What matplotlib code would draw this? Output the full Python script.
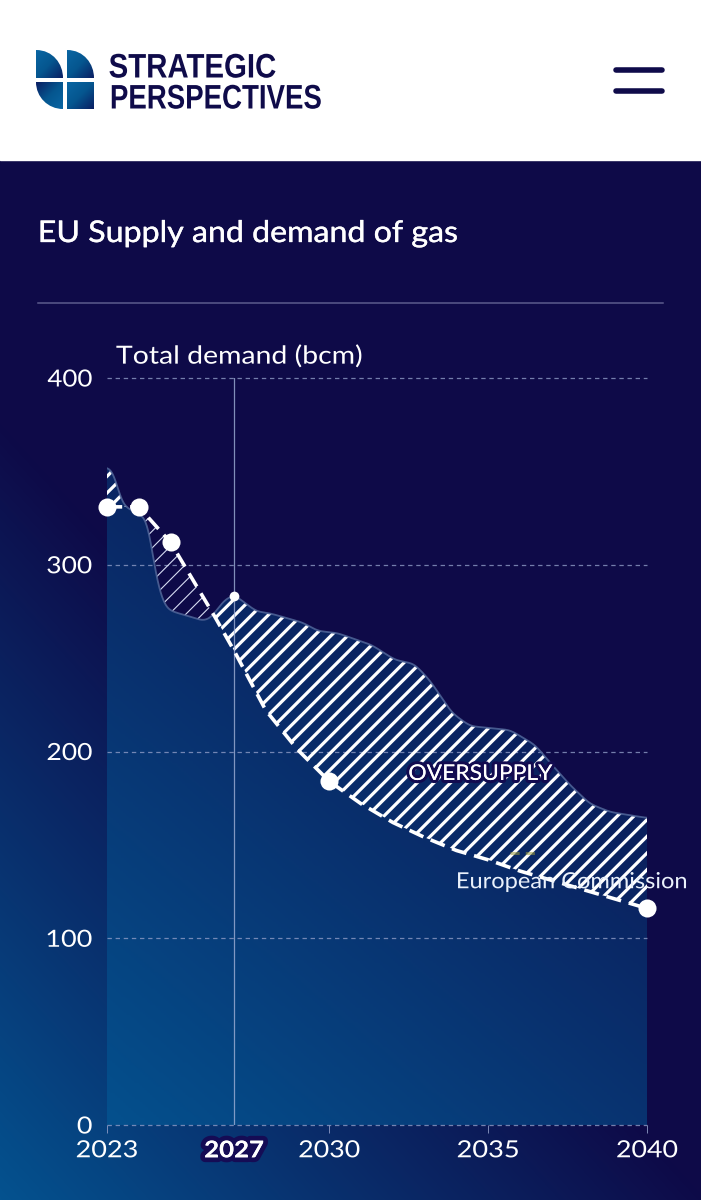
import numpy as np
import matplotlib
matplotlib.use("Agg")
import matplotlib.pyplot as plt
from matplotlib.colors import LinearSegmentedColormap
from matplotlib.path import Path
from matplotlib.patches import PathPatch, Rectangle
from matplotlib.transforms import Affine2D
import matplotlib.patheffects as pe

# ---- data -------------------------------------------------------------
demand_years = [2023, 2024, 2025, 2026.4, 2027, 2028, 2029, 2030, 2031, 2032, 2033,
                2034, 2035, 2036, 2037, 2038, 2039, 2040]
demand_values = [331, 331, 312, 272, 254, 222, 201, 184, 172, 162, 154,
                 147, 142, 136, 131, 126, 121, 116]
supply_years = [2023, 2023.16, 2023.3, 2023.47, 2023.9, 2024.26, 2024.35, 2024.45, 2024.54,
                2024.67, 2024.83, 2025.05, 2025.46, 2026.02, 2026.24, 2026.43, 2026.68,
                2027, 2027.35, 2027.7, 2028.13, 2029.17, 2029.64, 2030.24, 2031.34,
                2032.07, 2032.67, 2033.17, 2033.86, 2034.43, 2035.69, 2036.48, 2036.95,
                2037.58, 2038.2, 2038.84, 2040]
supply_values = [352, 352, 344, 332, 328, 325, 317, 304, 293,
                 285, 277, 275, 273, 270, 271, 275, 281,
                 284, 279.5, 275, 274, 269, 264.5, 263.5, 257,
                 249, 247, 238, 220.6, 213.6, 211.5, 203.5, 194,
                 182, 172, 167.6, 164.4]
marker_years = [2023, 2024, 2025, 2030, 2040]
marker_values = [331, 331, 312, 184, 116]
supply_marker_year = [2027]
supply_marker_value = [283]
tint_years = [2035.7, 2036.6]
tint_values = [145.5, 145.5]
x_ticks = [2023, 2027, 2030, 2035, 2040]
x_labels = ["2023", "2027", "2030", "2035", "2040"]
y_ticks = [0, 100, 200, 300, 400]

W, H = 701, 1200
NAVY = "#0e0a48"
INK = "#0f0b4a"
plt.rcParams["font.family"] = ["Lato", "DejaVu Sans"]


class Fit(pe.AbstractPathEffect):
    """Draw text scaled horizontally to a given pixel width, with an optional stroke."""
    def __init__(self, width, anchor="left", stroke=0.0, stroke_color=None):
        super().__init__()
        self.width, self.anchor, self.stroke, self.stroke_color = width, anchor, stroke, stroke_color

    def draw_path(self, renderer, gc, tpath, affine, rgbFace=None):
        ext = tpath.get_extents(affine)
        a = {"left": ext.x0, "center": (ext.x0 + ext.x1) / 2, "right": ext.x1}[self.anchor]
        sx = self.width / max(ext.width, 1e-6)
        aff = affine + Affine2D().translate(-a, 0).scale(sx, 1).translate(a, 0)
        if self.stroke:
            gc0 = renderer.new_gc()
            gc0.copy_properties(gc)
            gc0.set_linewidth(self.stroke)
            gc0.set_foreground(self.stroke_color if self.stroke_color else rgbFace)
            gc0.set_joinstyle("round")
            renderer.draw_path(gc0, tpath, aff, rgbFace)
            gc0.restore()
        renderer.draw_path(gc, tpath, aff, rgbFace)


fig = plt.figure(figsize=(W / 100, H / 100), dpi=100, facecolor="white")

# ---- page background --------------------------------------------------
bg = fig.add_axes([0, 0, 1, 1], zorder=0)
bg.axis("off")
px, py = np.meshgrid(np.arange(W), np.arange(160, H))
t = np.clip(((py - 420) - 1.1 * px) / 780, 0, 1)
page_cmap = LinearSegmentedColormap.from_list("page", [NAVY, "#04528f"])
bg.imshow(t, cmap=page_cmap, vmin=0, vmax=1, extent=(0, W, H, 160), aspect="auto", zorder=0)

# header
bg.add_patch(Rectangle((0, 0), W, 160, color="white", zorder=1))
logo_cmap = LinearSegmentedColormap.from_list("logo", ["#0a1f63", "#05568f", "#0a66a3"])
def logo_piece(verts, codes, rev=False):
    patch = PathPatch(Path(verts, codes), fc="none", ec="none", zorder=2)
    bg.add_patch(patch)
    x0, x1 = min(v[0] for v in verts), max(v[0] for v in verts)
    y0, y1 = min(v[1] for v in verts), max(v[1] for v in verts)
    g = np.add.outer(np.linspace(0, 1, 40), np.linspace(0, 1, 40)) / 2
    if rev:
        g = 1 - g
    im = bg.imshow(g, cmap=logo_cmap, extent=(x0, x1, y1, y0), aspect="auto", zorder=2)
    im.set_clip_path(patch)
M, L, C = Path.MOVETO, Path.LINETO, Path.CURVE4
for x0 in (36, 67):
    logo_piece([(x0, 50), (x0 + 17, 50), (x0 + 27, 64), (x0 + 27, 78), (x0, 78), (x0, 50)],
               [M, C, C, C, L, L], rev=True)
logo_piece([(36, 82), (63, 82), (63, 109), (48, 109), (36, 97), (36, 82)],
           [M, L, L, C, C, C], rev=False)
logo_piece([(67, 82), (94, 82), (94, 109), (67, 109), (67, 82)], [M, L, L, L, L], rev=True)
bg.set_xlim(0, W); bg.set_ylim(H, 0)
bg.text(108.5, 77.5, "STRATEGIC", family=["Liberation Sans", "DejaVu Sans"], weight="bold",
        fontsize=24.5, color=INK, va="baseline", ha="left", zorder=3,
        path_effects=[Fit(166)])
bg.text(109.5, 108.5, "PERSPECTIVES", family=["Liberation Sans", "DejaVu Sans"], weight="bold",
        fontsize=24.5, color=INK, va="baseline", ha="left", zorder=3,
        path_effects=[Fit(209)])
for yy in (70, 91):
    bg.plot([616, 662], [yy, yy], color=INK, lw=4.0, solid_capstyle="round", zorder=3)

# title and rule
bg.text(38, 233, "EU Supply and demand of gas", color="white", fontsize=21.5,
        va="center", ha="left", zorder=3, path_effects=[Fit(416, stroke=0.25)])
bg.plot([38, 663], [303, 303], color="#5c5b8c", lw=1.1, zorder=3)
bg.text(116, 356, "Total demand (bcm)", color="white", fontsize=18, va="center", ha="left",
        zorder=3, path_effects=[Fit(245)])

# ---- chart -------------------------------------------------------------
ax = fig.add_axes([107 / W, 1 - 1125 / H, 540 / W, 747 / H], zorder=2)
ax.patch.set_alpha(0)
for s in ax.spines.values():
    s.set_visible(False)

# dense sampling with a small kernel only rounds the drawn outline of the read points
xs = np.linspace(2023, 2040, 1361)
dem = np.interp(xs, demand_years, demand_values)
raw = np.interp(xs, supply_years, supply_values)
kx = np.arange(-30, 31)
kernel = np.exp(-0.5 * (kx / 10.0) ** 2)
kernel /= kernel.sum()
sup = np.convolve(np.pad(raw, 30, mode="edge"), kernel, mode="valid")

# gradient area under supply
area = ax.fill_between(xs, 0, sup, facecolor="none", edgecolor="none", zorder=1)
gx, gy = np.meshgrid(np.linspace(107, 647, 200), np.linspace(378, 1125, 300))
g = np.clip(0.95 + (gy - 1100) * 0.0009 - (gx - 107) * 0.00075, 0.28, 1)
fill_cmap = LinearSegmentedColormap.from_list("fill", [NAVY, "#04528f"])
im = ax.imshow(g, cmap=fill_cmap, vmin=0, vmax=1, extent=(2023, 2040, 0, 400),
               origin="upper", aspect="auto", zorder=1)
im.set_clip_path(area.get_paths()[0], ax.transData)

# under-supply: dark with thin hatch
ax.fill_between(xs, sup, dem, where=dem >= sup, interpolate=True, facecolor=NAVY,
                edgecolor="none", zorder=2)
plt.rcParams["hatch.linewidth"] = 0.8
ax.fill_between(xs, sup, dem, where=dem >= sup, interpolate=True, facecolor="none",
                edgecolor="#d6dcf2", hatch="//", linewidth=0, zorder=3)
# oversupply: thick hatch
plt.rcParams["hatch.linewidth"] = 2.3
ax.fill_between(xs, dem, sup, where=sup >= dem, interpolate=True, facecolor="none",
                edgecolor="white", hatch="//", linewidth=0, zorder=3)
ax.plot(tint_years, tint_values, color="#9a9a3c", lw=2.2, alpha=0.55, dashes=(3, 2), zorder=3.5)

# grid and reference line
for v in y_ticks:
    ax.axhline(v, color="#8f9cc6", lw=0.9, dashes=(3.5, 3), alpha=0.8, zorder=2.5, clip_on=False)
ax.axvline(2027, color="#9fb0d6", lw=0.9, alpha=0.8, zorder=4)

# lines
ax.plot(xs, sup, color="#4d6296", lw=1.3, zorder=4.5, alpha=0.9)
ax.plot(demand_years, demand_values, color="white", lw=2.6, dashes=(4.2, 2.2), zorder=5,
        clip_on=False)
ax.plot(marker_years, marker_values, ls="none", marker="o", ms=13, mfc="white", mec="none",
        zorder=6, clip_on=False)
ax.plot(supply_marker_year, supply_marker_value, ls="none", marker="o", ms=7, mfc="white",
        mec="none", zorder=6, clip_on=False)

# axis
ax.set_xlim(2023, 2040)
ax.set_ylim(0, 400)
ax.set_xticks(x_ticks, x_labels)
ax.set_yticks(y_ticks)
ax.tick_params(axis="x", length=5.5, width=0.6, color="#8f9cc6", pad=5.5, labelsize=17,
               labelcolor="white")
ax.tick_params(axis="y", length=0, pad=10.5, labelsize=17, labelcolor="white")
for lab in ax.get_yticklabels():
    lab.set_path_effects([Fit(44 * len(lab.get_text()) / 3 if len(lab.get_text()) > 1 else 14,
                              anchor="right")])
for lab, tk in zip(ax.get_xticklabels(), ax.xaxis.get_major_ticks()):
    if lab.get_text() == "2027":
        lab.set_fontweight("bold")
        lab.set_fontsize(16.5)
        lab.set_path_effects([Fit(58, anchor="center", stroke=7, stroke_color="#150c55"),
                              Fit(58, anchor="center")])
        tk.tick1line.set_visible(False)
    else:
        lab.set_path_effects([Fit(60, anchor="center")])

ax.text(2034.75, 188, "OVERSUPPLY", color="white", fontsize=15.5, ha="center", va="center", zorder=7,
        path_effects=[Fit(143, anchor="center", stroke=4.5, stroke_color="#120b50"),
                      Fit(143, anchor="center")])
ax.text(2037.64, 130, "European Commission", color="#eaf1fb", fontsize=16, ha="center", va="center",
        zorder=7, clip_on=False, path_effects=[Fit(228, anchor="center")])

fig.savefig("out.png", dpi=100)
